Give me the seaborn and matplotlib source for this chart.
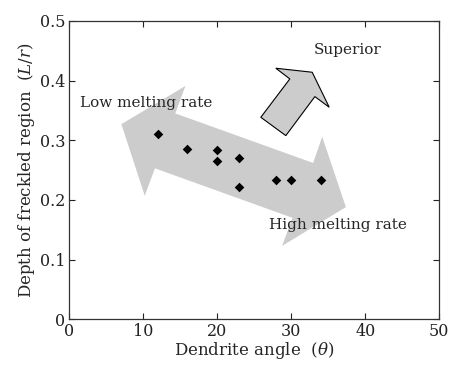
import matplotlib
matplotlib.use("Agg")
import matplotlib.pyplot as plt
import seaborn as sns
import pandas as pd
from matplotlib.patches import Polygon

angle = [12, 16, 20, 20, 23, 23, 28, 30, 34]
depth = [0.311, 0.286, 0.283, 0.266, 0.271, 0.222, 0.234, 0.234, 0.234]

xticks = [0, 10, 20, 30, 40, 50]
yticks = [0, 0.1, 0.2, 0.3, 0.4, 0.5]
ytick_labels = ["0", "0.1", "0.2", "0.3", "0.4", "0.5"]

# double arrow outline (data coords)
dbl_x = [7.07, 15.72, 14.35, 32.97, 34.19, 37.39, 28.78, 30.18, 11.60, 10.23]
dbl_y = [0.327, 0.391, 0.345, 0.262, 0.306, 0.188, 0.123, 0.170, 0.253, 0.207]
# superior arrow outline
sup_x = [25.9, 29.82, 27.93, 32.84, 35.14, 33.2, 29.28]
sup_y = [0.3385, 0.4028, 0.4207, 0.414, 0.3553, 0.3732, 0.3078]

sns.set_style("ticks")
plt.rcParams['font.family'] = ['DejaVu Serif']
plt.rcParams['mathtext.fontset'] = 'dejavuserif'

fig = plt.figure(figsize=(4.51, 3.67), dpi=100)
ax = fig.add_axes([0.153, 0.130, 0.821, 0.813])

ax.add_patch(Polygon(list(zip(dbl_x, dbl_y)), closed=True, facecolor='#cccccc',
                     edgecolor='none', zorder=1))
ax.add_patch(Polygon(list(zip(sup_x, sup_y)), closed=True, facecolor='#cccccc',
                     edgecolor='black', linewidth=0.8, zorder=1))

df = pd.DataFrame({"angle": angle, "depth": depth})
sns.scatterplot(data=df, x="angle", y="depth", marker="D", s=24, color="black",
                edgecolor="black", linewidth=0, ax=ax, zorder=3)

fs = 11
ax.text(1.5, 0.362, "Low melting rate", fontsize=fs, va='center', ha='left', zorder=4)
ax.text(27.0, 0.158, "High melting rate", fontsize=fs, va='center', ha='left', zorder=4)
ax.text(37.6, 0.451, "Superior", fontsize=fs, va='center', ha='center', zorder=4)

ax.set_xlim(0, 50)
ax.set_ylim(0, 0.5)
ax.set_xticks(xticks)
ax.set_yticks(yticks)
ax.set_yticklabels(ytick_labels)
ax.tick_params(direction='in', top=True, right=True, length=4, width=0.8,
               labelsize=11.5, colors='#222222', pad=2.5)
for sp in ax.spines.values():
    sp.set_visible(True)
    sp.set_color('#333333')
    sp.set_linewidth(0.9)
ax.set_xlabel("Dendrite angle  ($\\theta$)", fontsize=12, labelpad=0)
ax.set_ylabel("Depth of freckled region  ($L/r$)", fontsize=12, labelpad=2)

fig.savefig("out.png", dpi=100)
